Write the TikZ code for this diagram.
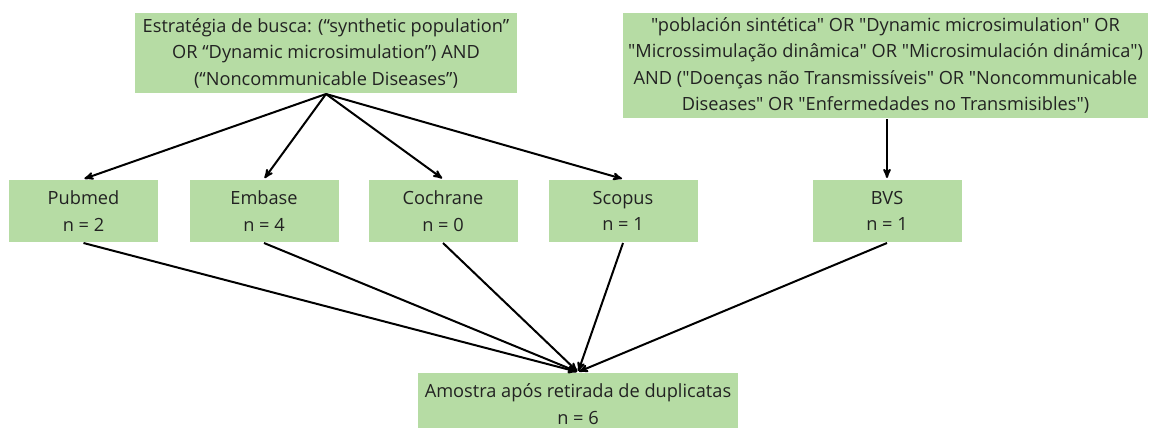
\documentclass[tikz,border=0pt]{standalone}
\usepackage{fontspec}
\setmainfont{Open Sans}
\newfontfamily\bvsfont{Open Sans}
\usetikzlibrary{arrows}
\definecolor{boxgreen}{RGB}{182,220,164}
\definecolor{boxtext}{RGB}{34,34,34}

\begin{document}
\begin{tikzpicture}[x=1pt, y=-1pt, ->, >=stealth', shorten >=1pt, line width=2pt,
  base/.style={fill=boxgreen, text=boxtext, align=center, inner sep=0pt,
               font=\fontsize{18.2}{26.5}\selectfont},
  srcbox/.style={base, minimum width=149pt, minimum height=62pt}]

  \useasboundingbox (0,0) rectangle (1153,428);

  \node[base, minimum width=382pt, minimum height=80pt] (busca) at (326,53)
    {Estratégia de busca: (“synthetic population”\\
     OR “Dynamic microsimulation”) AND\\
     (“Noncommunicable Diseases”)};
  \node[base, font=\bvsfont\fontsize{18.2}{26.5}\selectfont,
        minimum width=525pt, minimum height=105pt] (buscabvs) at (885.5,65.5)
    {"población sintética" OR "Dynamic microsimulation" OR\\
     "Microssimulação dinâmica" OR "Microsimulación dinámica")\\
     AND ("Doenças não Transmissíveis" OR "Noncommunicable\\
     Diseases" OR "Enfermedades no Transmisibles")};

  \node[srcbox] (pubmed) at (83.5,211) {Pubmed\\n = 2};
  \node[srcbox] (embase) at (264,211) {Embase\\n = 4};
  \node[srcbox] (cochrane) at (443,211) {Cochrane\\n = 0};
  \node[srcbox] (scopus) at (623,211) {Scopus\\n = 1};
  \node[srcbox] (bvs) at (887,211) {BVS\\n = 1};

  \node[base, minimum width=320pt, minimum height=62pt] (amostra) at (578,404)
    {Amostra após retirada de duplicatas\\n = 6};

   \path
    (busca.south) edge (pubmed.north)
    (busca.south) edge (embase.north)
    (busca.south) edge (cochrane.north)
    (busca.south) edge (scopus.north)
    (buscabvs.south -| bvs.north) edge (bvs.north)
    (pubmed.south) edge (amostra.north)
    (embase.south) edge (amostra.north)
    (cochrane.south) edge (amostra.north)
    (scopus.south) edge (amostra.north)
    (bvs.south) edge (amostra.north);
\end{tikzpicture}
\end{document}
